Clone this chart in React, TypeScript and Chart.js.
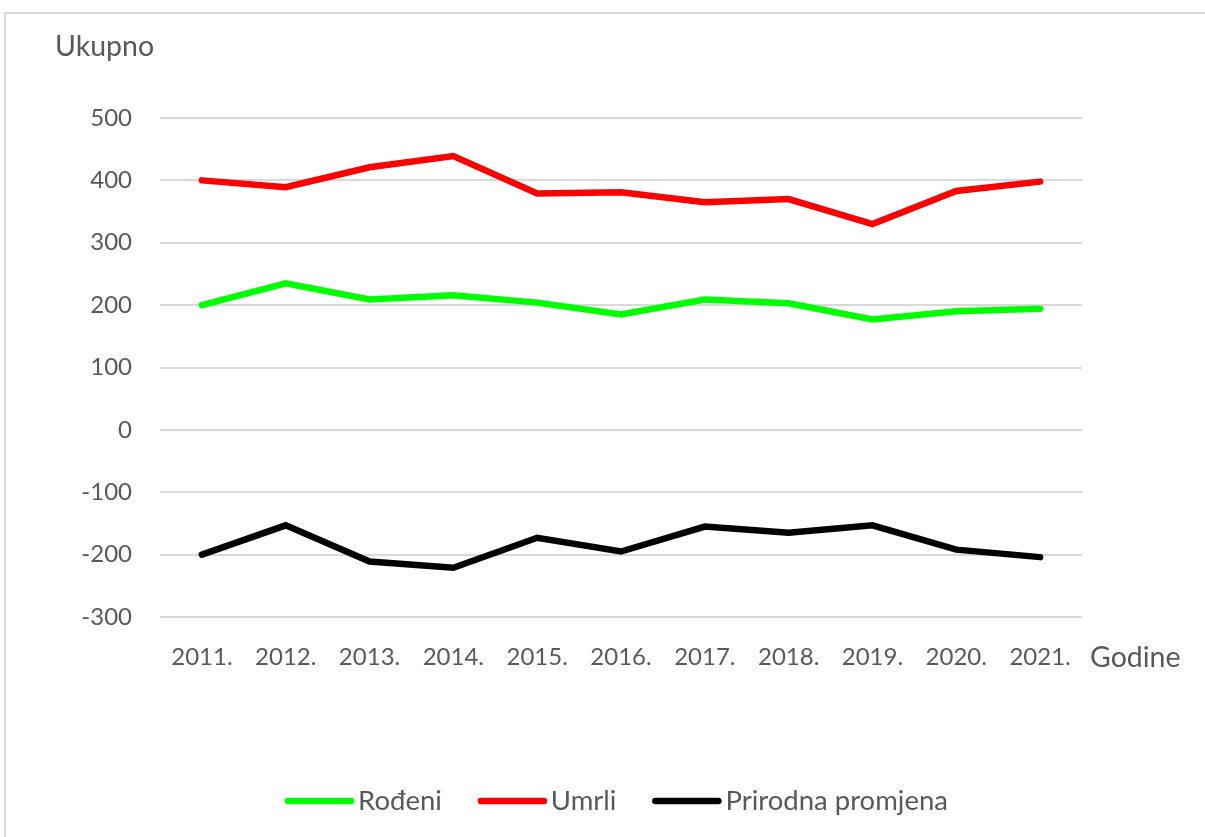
import React, { useEffect, useRef } from "react";
import { Chart, registerables } from "chart.js";

Chart.register(...registerables);

const categories = ["2011.", "2012.", "2013.", "2014.", "2015.", "2016.", "2017.", "2018.", "2019.", "2020.", "2021."];
const rodeni = [200, 235, 209, 216, 204, 185, 209, 203, 177, 190, 194];
const umrli = [400, 389, 421, 439, 379, 381, 365, 370, 330, 383, 398];
const prirodnaPromjena = [-200, -153, -211, -221, -173, -195, -155, -165, -153, -192, -204];
const seriesLabels = ["Rođeni", "Umrli", "Prirodna promjena"];
const seriesColors = ["#00ff00", "#ff0000", "#000000"];
const yAxisTitle = "Ukupno";
const xAxisTitle = "Godine";

const FONT = "Lato, 'Open Sans', sans-serif";
const TEXT_COLOR = "#595959";

const extraText = {
  id: "extraText",
  afterDraw(chart: any) {
    const ctx = chart.ctx as CanvasRenderingContext2D;
    ctx.save();
    ctx.fillStyle = TEXT_COLOR;
    ctx.font = `28.5px ${FONT}`;
    ctx.textBaseline = "middle";
    ctx.textAlign = "left";
    ctx.fillText(yAxisTitle, 55, 47);
    ctx.fillText(xAxisTitle, 1090, 658);

    // legend
    ctx.font = `27.5px ${FONT}`;
    const sampleW = 69;
    const gapText = 4;
    const gapItem = 36;
    const widths = seriesLabels.map((l) => ctx.measureText(l).width);
    let total = 0;
    widths.forEach((w, i) => {
      total += sampleW + gapText + w + (i < widths.length - 1 ? gapItem : 0);
    });
    let x = 616.5 - total / 2;
    const y = 801;
    chart.data.datasets.forEach((ds: any, i: number) => {
      ctx.strokeStyle = ds.borderColor;
      ctx.lineWidth = 6.5;
      ctx.lineCap = "round";
      ctx.beginPath();
      ctx.moveTo(x + 3, y);
      ctx.lineTo(x + sampleW - 3, y);
      ctx.stroke();
      ctx.fillStyle = TEXT_COLOR;
      ctx.fillText(ds.label, x + sampleW + gapText, y);
      x += sampleW + gapText + widths[i] + gapItem;
    });
    ctx.restore();
  },
};

export default function App() {
  const ref = useRef<HTMLCanvasElement>(null);
  useEffect(() => {
    if (!ref.current) return;
    const chart = new Chart(ref.current, {
      type: "line",
      data: {
        labels: categories,
        datasets: [rodeni, umrli, prirodnaPromjena].map((d, i) => ({
          label: seriesLabels[i],
          data: d,
          borderColor: seriesColors[i],
          backgroundColor: seriesColors[i],
          borderWidth: 6.5,
          pointRadius: 0,
          pointHoverRadius: 0,
          tension: 0,
          borderCapStyle: "round" as const,
          fill: false,
        })),
      },
      options: {
        animation: false,
        responsive: false,
        maintainAspectRatio: false,
        layout: { padding: { left: 0, right: 123, top: 118, bottom: 0 } },
        plugins: {
          legend: { display: false },
          tooltip: { enabled: false },
          title: { display: false },
        },
        scales: {
          x: {
            type: "category",
            offset: true,
            grid: { display: false, drawTicks: false },
            border: { display: false },
            ticks: {
              color: TEXT_COLOR,
              font: { family: FONT, size: 24 },
              padding: 26,
              maxRotation: 0,
              autoSkip: false,
            },
            afterFit: (axis: any) => {
              axis.height = 220;
            },
          },
          y: {
            min: -300,
            max: 500,
            grid: { color: "#d9d9d9", lineWidth: 2, drawTicks: false },
            border: { display: false },
            ticks: {
              stepSize: 100,
              color: TEXT_COLOR,
              font: { family: FONT, size: 24 },
              padding: 28,
            },
            afterFit: (axis: any) => {
              axis.width = 160;
            },
          },
        },
      },
      plugins: [extraText],
    });
    return () => chart.destroy();
  }, []);

  return (
    <div style={{ position: "fixed", left: 0, top: 0, width: 1205, height: 837, overflow: "hidden", background: "#fff" }}>
      <div
        style={{
          position: "absolute",
          left: 4,
          top: 12,
          width: 1400,
          height: 1000,
          border: "2px solid #d9d9d9",
          boxSizing: "border-box",
        }}
      />
      <canvas ref={ref} width={1205} height={837} style={{ position: "absolute", left: 0, top: 0, width: 1205, height: 837 }} />
    </div>
  );
}
